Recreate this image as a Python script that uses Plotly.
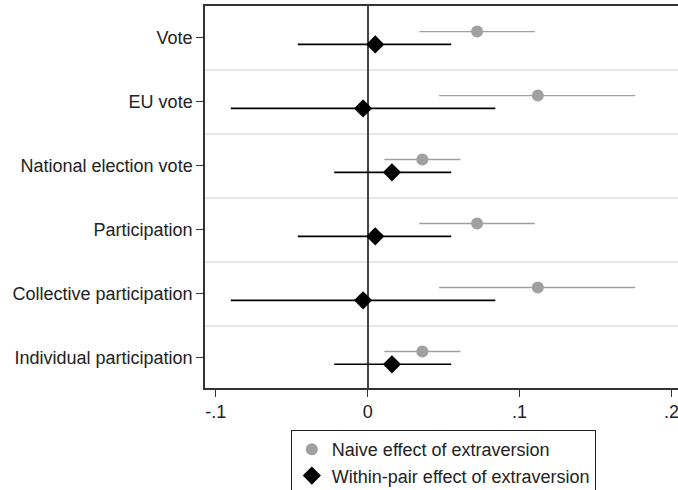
import plotly.graph_objects as go

categories = ["Vote", "EU vote", "National election vote", "Participation",
              "Collective participation", "Individual participation"]
naive_est = [0.072, 0.112, 0.036, 0.072, 0.112, 0.036]
naive_lo = [0.034, 0.047, 0.011, 0.034, 0.047, 0.011]
naive_hi = [0.110, 0.176, 0.061, 0.110, 0.176, 0.061]
within_est = [0.005, -0.003, 0.016, 0.005, -0.003, 0.016]
within_lo = [-0.046, -0.090, -0.022, -0.046, -0.090, -0.022]
within_hi = [0.055, 0.084, 0.055, 0.055, 0.084, 0.055]
xtick_vals = [-0.1, 0, 0.1, 0.2]
xtick_text = ["-.1", "0", ".1", ".2"]

n = len(categories)
ypos = [n - i for i in range(n)]
off = 0.1

FONT = "Liberation Sans, Arial, sans-serif"

fig = go.Figure()
fig.add_trace(go.Scatter(
    x=naive_est, y=[y + off for y in ypos], mode="markers",
    name="Naive effect of extraversion", legendgroup="a",
    marker=dict(symbol="circle", size=12, color="#a0a0a0"),
    error_x=dict(type="data", symmetric=False,
                 array=[h - e for h, e in zip(naive_hi, naive_est)],
                 arrayminus=[e - l for e, l in zip(naive_est, naive_lo)],
                 width=0, thickness=1.4, color="#a0a0a0"),
))
fig.add_trace(go.Scatter(
    x=within_est, y=[y - off for y in ypos], mode="markers",
    name="Within-pair effect of extraversion", legendgroup="b",
    marker=dict(symbol="diamond", size=14, color="black"),
    error_x=dict(type="data", symmetric=False,
                 array=[h - e for h, e in zip(within_hi, within_est)],
                 arrayminus=[e - l for e, l in zip(within_est, within_lo)],
                 width=0, thickness=1.6, color="black"),
))

shapes = []
for k in range(1, n):
    shapes.append(dict(type="line", xref="paper", x0=0, x1=1, yref="y",
                       y0=k + 0.5, y1=k + 0.5, layer="below",
                       line=dict(color="#dcdcdc", width=1.5)))

fig.update_layout(
    width=678, height=490,
    margin=dict(l=205, r=0, t=6, b=102, autoexpand=False),
    plot_bgcolor="white", paper_bgcolor="white",
    font=dict(family=FONT, size=18, color="#222"),
    shapes=shapes,
    showlegend=True,
    legend=dict(x=0.1815, y=-0.11, xanchor="left", yanchor="top",
                bordercolor="#222", borderwidth=1, bgcolor="white",
                font=dict(size=18, family=FONT, color="#222"),
                tracegroupgap=0, itemwidth=30),
    xaxis=dict(range=[-0.107, 0.2042], tickvals=xtick_vals, ticktext=xtick_text,
               ticks="outside", ticklen=7, tickcolor="#333", showgrid=False,
               zeroline=True, zerolinecolor="#444", zerolinewidth=1.5,
               showline=True, linecolor="#333", linewidth=1.5, mirror=True,
               automargin=False, ticklabeloverflow="allow",
               tickfont=dict(size=18)),
    yaxis=dict(range=[0.53, 6.5], tickvals=ypos, ticktext=categories,
               ticks="outside", ticklen=7, tickcolor="#333", showgrid=False,
               zeroline=False, showline=True, linecolor="#333", linewidth=1.5,
               mirror=True, automargin=False, tickfont=dict(size=18)),
)

fig.write_html("out.html",
               config={"displayModeBar": False},
               post_script="document.body.style.margin='0';"
                           "document.body.style.overflow='hidden';")
